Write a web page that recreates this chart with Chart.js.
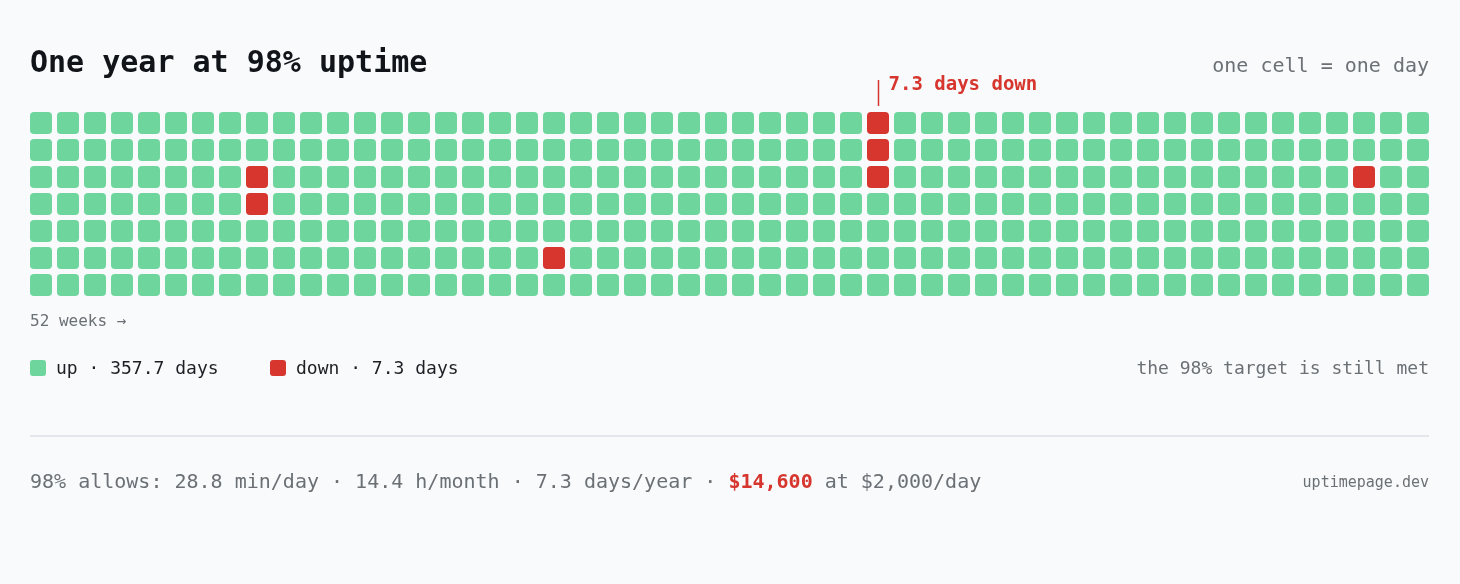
<!DOCTYPE html>
<html>
<head>
<meta charset="utf-8">
<script src="https://cdn.jsdelivr.net/npm/chart.js@4.4.1/dist/chart.umd.min.js"></script>
<style>
  html, body { margin: 0; padding: 0; background: #f8fafc; }
  #wrap { width: 1460px; height: 584px; position: relative; }
  canvas { display: block; }
</style>
</head>
<body>
<div id="wrap"><canvas id="c" width="1460" height="584"></canvas></div>
<script>
// ---- data ----
const weeks = [1,2,3,4,5,6,7,8,9,10,11,12,13,14,15,16,17,18,19,20,21,22,23,24,25,26,
               27,28,29,30,31,32,33,34,35,36,37,38,39,40,41,42,43,44,45,46,47,48,49,50,51,52];
// 1 = up, 0 = down (one cell per day, one column per week)
const day1 = [1,1,1,1,1,1,1,1,1,1, 1,1,1,1,1,1,1,1,1,1, 1,1,1,1,1,1,1,1,1,1, 1,0,1,1,1,1,1,1,1,1, 1,1,1,1,1,1,1,1,1,1, 1,1];
const day2 = [1,1,1,1,1,1,1,1,1,1, 1,1,1,1,1,1,1,1,1,1, 1,1,1,1,1,1,1,1,1,1, 1,0,1,1,1,1,1,1,1,1, 1,1,1,1,1,1,1,1,1,1, 1,1];
const day3 = [1,1,1,1,1,1,1,1,0,1, 1,1,1,1,1,1,1,1,1,1, 1,1,1,1,1,1,1,1,1,1, 1,0,1,1,1,1,1,1,1,1, 1,1,1,1,1,1,1,1,1,0, 1,1];
const day4 = [1,1,1,1,1,1,1,1,0,1, 1,1,1,1,1,1,1,1,1,1, 1,1,1,1,1,1,1,1,1,1, 1,1,1,1,1,1,1,1,1,1, 1,1,1,1,1,1,1,1,1,1, 1,1];
const day5 = [1,1,1,1,1,1,1,1,1,1, 1,1,1,1,1,1,1,1,1,1, 1,1,1,1,1,1,1,1,1,1, 1,1,1,1,1,1,1,1,1,1, 1,1,1,1,1,1,1,1,1,1, 1,1];
const day6 = [1,1,1,1,1,1,1,1,1,1, 1,1,1,1,1,1,1,1,1,0, 1,1,1,1,1,1,1,1,1,1, 1,1,1,1,1,1,1,1,1,1, 1,1,1,1,1,1,1,1,1,1, 1,1];
const day7 = [1,1,1,1,1,1,1,1,1,1, 1,1,1,1,1,1,1,1,1,1, 1,1,1,1,1,1,1,1,1,1, 1,1,1,1,1,1,1,1,1,1, 1,1,1,1,1,1,1,1,1,1, 1,1];
const rows = [day1, day2, day3, day4, day5, day6, day7];
const annotatedWeek = 32;
const upDays = 357.7;
const downDays = 7.3;

// ---- styles ----
const GREEN = '#6ed69d';
const RED = '#d6362d';
const MONO = '"DejaVu Sans Mono", monospace';
const GAP = 2.5 / 27;

const datasets = rows.map((row, r) => ({
  data: weeks.map(() => [r + GAP, r + 1 - GAP]),
  backgroundColor: row.map(v => v ? GREEN : RED),
  borderRadius: 4,
  borderSkipped: false,
  borderWidth: 0,
  grouped: false,
  barPercentage: 22 / 27,
  categoryPercentage: 1
}));

const textPlugin = {
  id: 'texts',
  afterDraw(chart) {
    const ctx = chart.ctx;
    ctx.save();
    ctx.textBaseline = 'alphabetic';
    // title
    ctx.fillStyle = '#111418';
    ctx.font = 'bold 30px ' + MONO;
    ctx.textAlign = 'left';
    ctx.fillText('One year at 98% uptime', 30, 72);
    // subtitle right
    ctx.fillStyle = '#6b7075';
    ctx.font = '20px ' + MONO;
    ctx.textAlign = 'right';
    ctx.fillText('one cell = one day', 1429, 72);
    // annotation
    const xs = chart.scales.x;
    const ax = Math.round(xs.getPixelForValue(annotatedWeek - 1)) + 0.5;
    ctx.strokeStyle = RED;
    ctx.lineWidth = 1.5;
    ctx.beginPath();
    ctx.moveTo(ax, 80);
    ctx.lineTo(ax, 106);
    ctx.stroke();
    ctx.fillStyle = RED;
    ctx.font = 'bold 19px ' + MONO;
    ctx.textAlign = 'left';
    ctx.fillText(downDays + ' days down', ax + 10, 90);
    // axis note
    ctx.fillStyle = '#6b7075';
    ctx.font = '16px ' + MONO;
    ctx.fillText('52 weeks \u2192', 30, 326);
    // legend
    const rr = (x, y, w, h, rad, col) => {
      ctx.fillStyle = col;
      ctx.beginPath();
      ctx.roundRect(x, y, w, h, rad);
      ctx.fill();
    };
    rr(30, 360, 16, 16, 3, GREEN);
    rr(270, 360, 16, 16, 3, RED);
    ctx.fillStyle = '#1c1f23';
    ctx.font = '18px ' + MONO;
    ctx.fillText('up \u00b7 ' + upDays + ' days', 56, 374);
    ctx.fillText('down \u00b7 ' + downDays + ' days', 296, 374);
    ctx.fillStyle = '#6b7075';
    ctx.textAlign = 'right';
    ctx.fillText('the 98% target is still met', 1429, 374);
    // separator
    ctx.strokeStyle = '#e3e6ea';
    ctx.lineWidth = 2;
    ctx.beginPath();
    ctx.moveTo(30, 436);
    ctx.lineTo(1429, 436);
    ctx.stroke();
    // footer
    ctx.textAlign = 'left';
    const parts = [
      ['98% allows: 28.8 min/day \u00b7 14.4 h/month \u00b7 7.3 days/year \u00b7 ', '#6b7075', '20px '],
      ['$14,600', RED, 'bold 20px '],
      [' at $2,000/day', '#6b7075', '20px ']
    ];
    let fx = 30;
    for (const [t, c, f] of parts) {
      ctx.font = f + MONO;
      ctx.fillStyle = c;
      ctx.fillText(t, fx, 488);
      fx += ctx.measureText(t).width;
    }
    ctx.fillStyle = '#6b7075';
    ctx.font = '15px ' + MONO;
    ctx.textAlign = 'right';
    ctx.fillText('uptimepage.dev', 1429, 487);
    ctx.restore();
  }
};

new Chart(document.getElementById('c'), {
  type: 'bar',
  data: { labels: weeks, datasets },
  options: {
    responsive: false,
    animation: false,
    devicePixelRatio: 1,
    layout: { padding: { left: 27.5, right: 28.5, top: 109.5, bottom: 285.5 } },
    plugins: { legend: { display: false }, tooltip: { enabled: false } },
    scales: {
      x: { type: 'category', display: false, offset: true },
      y: { type: 'linear', display: false, min: 0, max: 7, reverse: true }
    }
  },
  plugins: [textPlugin]
});
</script>
</body>
</html>
